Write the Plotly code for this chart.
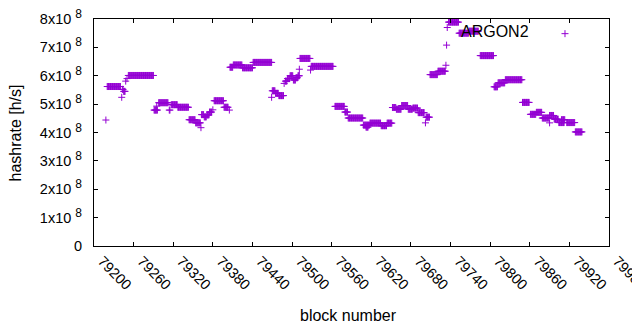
import plotly.graph_objects as go

# Runs of equal hashrate over consecutive blocks (start block, end block, hashrate in h/s)
run_start = [79218, 79220, 79242, 79243, 79245, 79248, 79250, 79252, 79291, 79295,
             79298, 79314, 79317, 79327, 79344, 79354, 79362, 79363, 79367, 79371,
             79375, 79380, 79382, 79397, 79405, 79406, 79411, 79425, 79441, 79469,
             79470, 79475, 79480, 79488, 79490, 79493, 79497, 79502, 79506, 79509,
             79511, 79512, 79528, 79529, 79565, 79580, 79585, 79608, 79612, 79618,
             79635, 79644, 79652, 79658, 79666, 79676, 79683, 79691, 79702, 79703,
             79709, 79721, 79733, 79734, 79735, 79737, 79753, 79768, 79785, 79806,
             79812, 79823, 79849, 79861, 79870, 79879, 79890, 79890, 79897, 79904,
             79908, 79916, 79929]
run_end = [79218, 79240, 79242, 79244, 79247, 79248, 79250, 79290, 79296, 79295,
           79312, 79315, 79326, 79343, 79353, 79361, 79362, 79366, 79370, 79374,
           79378, 79380, 79396, 79403, 79405, 79410, 79424, 79440, 79469, 79469,
           79474, 79479, 79487, 79488, 79492, 79496, 79501, 79505, 79508, 79511,
           79511, 79527, 79528, 79562, 79579, 79584, 79607, 79617, 79615, 79634,
           79643, 79651, 79657, 79665, 79675, 79682, 79690, 79700, 79702, 79708,
           79720, 79732, 79733, 79734, 79735, 79752, 79767, 79782, 79805, 79811,
           79822, 79848, 79859, 79869, 79878, 79889, 79890, 79896, 79903, 79912,
           79913, 79928, 79939]
run_value = [4.44e8, 5.62e8, 5.24e8, 5.52e8, 5.45e8, 5.81e8, 5.90e8, 6.01e8, 4.79e8, 4.93e8,
             5.05e8, 4.79e8, 4.98e8, 4.89e8, 4.45e8, 4.34e8, 4.17e8, 4.63e8, 4.55e8, 4.62e8,
             4.72e8, 4.80e8, 5.12e8, 4.89e8, 4.79e8, 6.30e8, 6.38e8, 6.28e8, 6.47e8, 5.24e8,
             5.47e8, 5.38e8, 5.30e8, 5.73e8, 5.81e8, 5.90e8, 6.00e8, 5.85e8, 5.93e8, 6.00e8,
             6.23e8, 6.61e8, 6.20e8, 6.33e8, 4.92e8, 4.72e8, 4.51e8, 4.26e8, 4.19e8, 4.33e8,
             4.24e8, 4.33e8, 4.88e8, 4.82e8, 4.95e8, 4.82e8, 4.86e8, 4.70e8, 4.34e8, 4.54e8,
             6.04e8, 6.16e8, 6.37e8, 7.08e8, 7.70e8, 7.89e8, 7.50e8, 7.57e8, 6.71e8, 5.61e8,
             5.75e8, 5.86e8, 5.06e8, 4.64e8, 4.71e8, 4.51e8, 4.34e8, 4.60e8, 4.47e8, 4.35e8,
             4.45e8, 4.35e8, 4.02e8]

x_ticks = [79200, 79260, 79320, 79380, 79440, 79500, 79560, 79620, 79680, 79740,
           79800, 79860, 79920, 79980]
x_tick_labels = ["79200", "79260", "79320", "79380", "79440", "79500", "79560", "79620",
                 "79680", "79740", "79800", "79860", "79920", "79980"]
y_ticks = [0, 1e8, 2e8, 3e8, 4e8, 5e8, 6e8, 7e8, 8e8]
pad = "\u00a0\u00a0"
sup = " <sup><span style='font-size:12px'>8</span></sup>"
y_tick_labels = ["0" + pad] + [f"{k}x10" + sup + pad for k in range(1, 9)]

blocks, hashrate = [], []
for s, e, v in zip(run_start, run_end, run_value):
    for b in range(s, e + 1):
        blocks.append(b)
        hashrate.append(v)

color = "#9400D3"
family = "Liberation Sans, Arial, sans-serif"
font = dict(family=family, size=16, color="#000000")
tick_font = dict(family=family, size=14.5, color="#000000")

fig = go.Figure()
fig.add_trace(go.Scatter(
    x=blocks, y=hashrate, mode="markers", name=" ",
    marker=dict(symbol="cross-thin", size=5, line=dict(color=color, width=1), color=color),
    showlegend=True, cliponaxis=False,
))

# page body has an 8px margin, so the figure is 8px smaller and margins shifted
fig.update_layout(
    width=632, height=322,
    margin=dict(l=86, r=31, t=11, b=84, autoexpand=False),
    paper_bgcolor="white", plot_bgcolor="white",
    font=font,
    showlegend=True,
    legend=dict(x=0.8757, y=0.935, xanchor="left", yanchor="middle",
                bgcolor="rgba(0,0,0,0)", font=font, itemwidth=30),
    annotations=[
        dict(text="ARGON2", xref="paper", yref="paper", x=0.8485, y=0.945,
             xanchor="right", yanchor="middle", showarrow=False, font=font),
        dict(text="hashrate [h/s]", xref="paper", yref="paper", x=-0.1515, y=0.5,
             xanchor="center", yanchor="middle", textangle=-90, showarrow=False, font=font),
        dict(text="block number", xref="paper", yref="paper", x=0.494, y=-0.304,
             xanchor="center", yanchor="middle", showarrow=False, font=font),
    ],
)
fig.update_xaxes(range=[79200, 79980], tickvals=x_ticks, ticktext=x_tick_labels,
                 tickangle=45, ticks="inside", ticklen=4, tickcolor="black",
                 showline=True, linecolor="black", linewidth=1, mirror="ticks",
                 showgrid=False, zeroline=False, tickfont=tick_font, automargin=False,
                 ticklabeloverflow="allow", ticklabelshift=8)
fig.update_yaxes(range=[0, 8e8], tickvals=y_ticks, ticktext=y_tick_labels,
                 ticks="inside", ticklen=4, tickcolor="black",
                 showline=True, linecolor="black", linewidth=1, mirror="ticks",
                 showgrid=False, zeroline=False, tickfont=tick_font, automargin=False,
                 ticklabeloverflow="allow")

fig.write_html("out.html")
